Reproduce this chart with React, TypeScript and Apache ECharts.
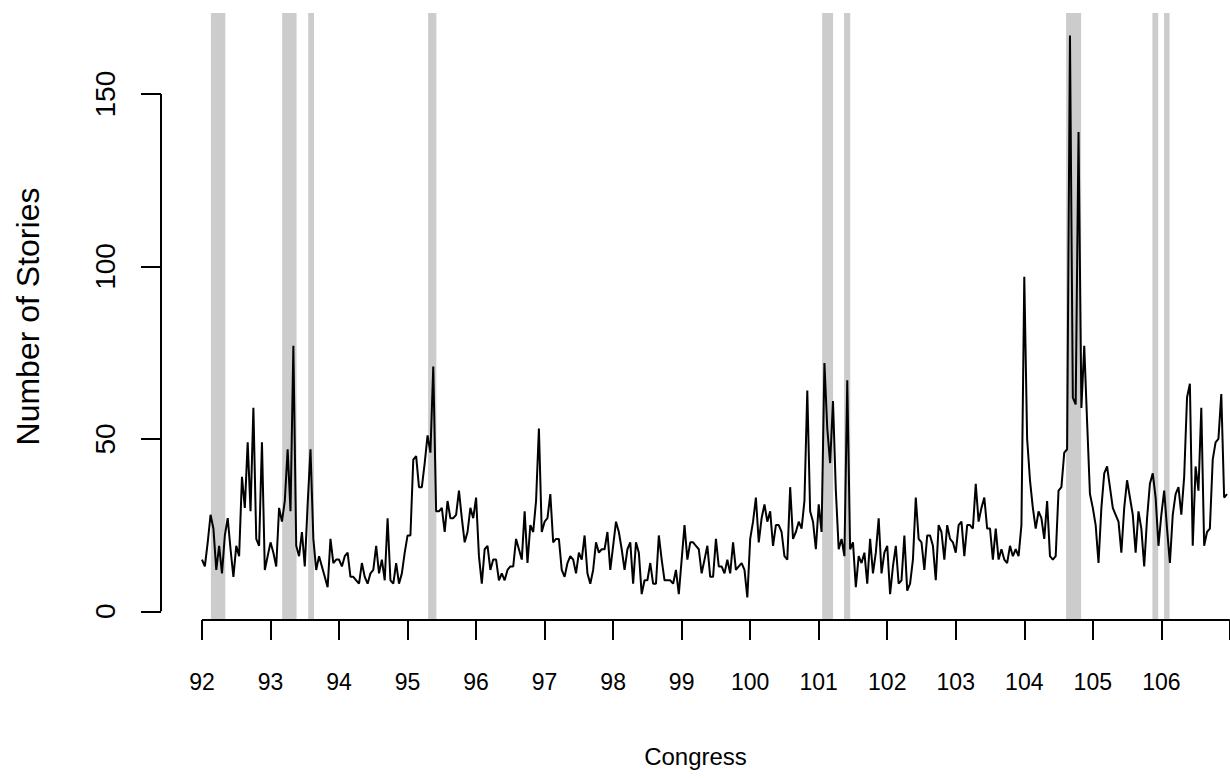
import React, { useEffect, useRef } from "react";
import * as echarts from "echarts";

// Congress tick positions and labels
const congressTicks = [92, 93, 94, 95, 96, 97, 98, 99, 100, 101, 102, 103, 104, 105, 106, 107];
const congressLabels = [92, 93, 94, 95, 96, 97, 98, 99, 100, 101, 102, 103, 104, 105, 106];
const storyTicks = [0, 50, 100, 150];

// Monthly number of stories, one row per Congress (24 months each)
const stories = [
  15, 13, 20, 28, 24, 12, 19, 11, 22, 27, 18, 10, 19, 16, 39, 30, 49, 29, 59, 21, 19, 49, 12, 16,
  20, 17, 13, 30, 26, 32, 47, 29, 77, 19, 16, 23, 13, 31, 47, 21, 12, 16, 13, 10, 7, 21, 14, 15,
  15, 13, 16, 17, 10, 10, 9, 8, 14, 10, 8, 11, 12, 19, 11, 15, 9, 27, 9, 8, 14, 8, 11, 17,
  22, 22, 44, 45, 36, 36, 43, 51, 46, 71, 29, 29, 30, 23, 32, 27, 27, 28, 35, 27, 20, 23, 30, 27,
  33, 16, 8, 18, 19, 12, 15, 15, 9, 11, 9, 12, 13, 13, 21, 18, 15, 29, 14, 25, 23, 32, 53, 23,
  26, 27, 34, 20, 21, 21, 12, 10, 14, 16, 15, 11, 17, 15, 22, 11, 8, 12, 20, 17, 18, 18, 23, 12,
  19, 26, 23, 18, 12, 18, 20, 8, 20, 17, 5, 9, 9, 14, 8, 8, 22, 15, 9, 9, 9, 8, 12, 5,
  15, 25, 15, 20, 20, 19, 18, 11, 15, 19, 10, 10, 21, 13, 13, 11, 15, 11, 20, 12, 13, 14, 12, 4,
  21, 26, 33, 20, 27, 31, 26, 29, 19, 25, 25, 23, 16, 15, 36, 21, 23, 26, 24, 32, 64, 29, 26, 18,
  31, 23, 72, 53, 43, 61, 35, 18, 21, 16, 67, 18, 20, 7, 16, 14, 17, 8, 21, 11, 17, 27, 11, 17,
  19, 5, 13, 19, 8, 9, 22, 6, 8, 15, 33, 21, 20, 12, 22, 22, 19, 9, 25, 23, 15, 25, 21, 20,
  17, 25, 26, 16, 25, 25, 24, 37, 26, 30, 33, 24, 24, 15, 24, 15, 18, 15, 14, 19, 16, 18, 16, 25,
  97, 50, 38, 30, 24, 29, 27, 21, 32, 16, 15, 16, 35, 36, 46, 47, 167, 62, 60, 139, 59, 77, 55, 34,
  30, 25, 14, 30, 40, 42, 36, 30, 28, 26, 17, 30, 38, 33, 28, 17, 29, 24, 13, 27, 37, 40, 33, 19,
  28, 35, 24, 14, 28, 34, 36, 28, 39, 62, 66, 19, 42, 35, 59, 19, 23, 24, 44, 49, 50, 63, 33, 34,
];

// Shaded periods (in Congress units)
const bandStart = [92.13, 93.17, 93.55, 95.3, 101.05, 101.37, 104.61, 105.87, 106.04];
const bandEnd = [92.34, 93.38, 93.635, 95.42, 101.21, 101.46, 104.83, 105.955, 106.12];

const FONT = "'Liberation Sans', Arial, Helvetica, sans-serif";

export default function App() {
  const ref = useRef<HTMLDivElement>(null);

  useEffect(() => {
    if (!ref.current) return;
    const chart = echarts.init(ref.current, null, { renderer: "svg" });

    const n = stories.length;
    const xs = stories.map((_, i) => 92 + i / 24);
    const xLo = xs[0];
    const xHi = xs[n - 1];
    const xPad = 0.04 * (xHi - xLo);
    const yLo = Math.min(...stories);
    const yHi = Math.max(...stories);
    const yPad = 0.04 * (yHi - yLo);
    const xMin = xLo - xPad;
    const xMaxFull = xHi + xPad;
    const yMin = yLo - yPad;
    const yMax = yHi + yPad;

    // The full plot region is 1107px wide; the page cuts it at 1230px.
    const gridLeft = 161;
    const fullWidth = 1107;
    const visibleWidth = 1230 - gridLeft;
    const xMax = xMin + ((xMaxFull - xMin) * visibleWidth) / fullWidth;

    const axisStyle = { color: "#000", width: 2 };

    chart.setOption({
      animation: false,
      backgroundColor: "#ffffff",
      grid: { left: gridLeft, top: 13, right: 0, height: 607, containLabel: false },
      xAxis: {
        type: "value",
        min: xMin,
        max: xMax,
        axisLine: { show: false, onZero: false },
        splitLine: { show: false },
        axisTick: { show: true, customValues: congressTicks, length: 20, lineStyle: axisStyle },
        axisLabel: {
          customValues: congressLabels,
          fontSize: 23,
          color: "#000",
          fontFamily: FONT,
          margin: 50,
          formatter: (v: number) => String(v),
        },
        name: "Congress",
        nameLocation: "middle",
        nameGap: 124,
        nameTextStyle: { fontSize: 24, color: "#000", fontFamily: FONT },
      },
      yAxis: {
        type: "value",
        min: yMin,
        max: yMax,
        axisLine: { show: false, onZero: false },
        splitLine: { show: false },
        axisTick: { show: true, customValues: storyTicks, length: 20, lineStyle: axisStyle },
        axisLabel: {
          customValues: storyTicks,
          rotate: 90,
          fontSize: 28,
          color: "#000",
          fontFamily: FONT,
          margin: 42,
          formatter: (v: number) => String(v),
        },
        name: "Number of Stories",
        nameLocation: "middle",
        nameRotate: 90,
        nameGap: 117,
        nameTextStyle: { fontSize: 32, color: "#000", fontFamily: FONT },
      },
      series: [
        {
          type: "line",
          name: "xaxisline",
          data: [
            [congressTicks[0], yMin],
            [congressTicks[congressTicks.length - 1], yMin],
          ],
          clip: false,
          symbol: "none",
          silent: true,
          z: 1,
          lineStyle: axisStyle,
          markArea: {
            silent: true,
            itemStyle: { color: "#cccccc" },
            data: bandStart.map((s, k) => [{ xAxis: s }, { xAxis: bandEnd[k] }]),
          },
        },
        {
          type: "line",
          name: "yaxisline",
          data: [
            [xMin, storyTicks[0]],
            [xMin, storyTicks[storyTicks.length - 1]],
          ],
          clip: false,
          symbol: "none",
          silent: true,
          z: 2,
          lineStyle: axisStyle,
        },
        {
          type: "line",
          name: "stories",
          data: stories.map((v, i) => [xs[i], v]),
          symbol: "none",
          showSymbol: false,
          silent: true,
          z: 5,
          lineStyle: { color: "#000", width: 2 },
        },
      ],
    });

    return () => chart.dispose();
  }, []);

  return (
    <div
      ref={ref}
      style={{ position: "absolute", left: 0, top: 0, width: 1230, height: 778, background: "#fff" }}
    />
  );
}
